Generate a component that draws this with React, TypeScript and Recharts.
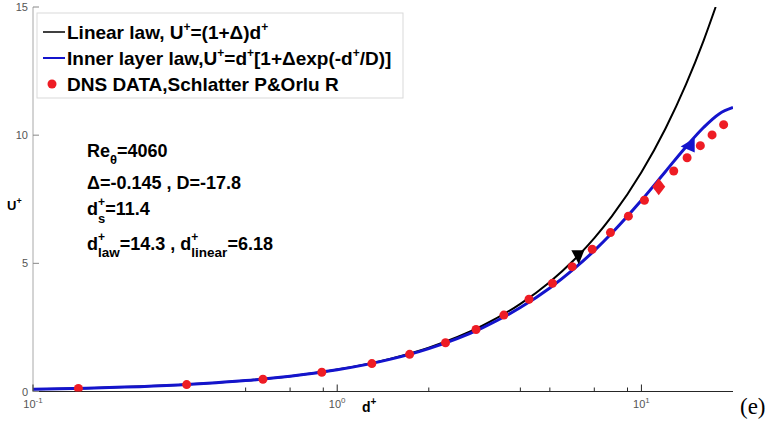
import React from "react";
import { ComposedChart, Line, Scatter, XAxis, YAxis } from "recharts";

// axis ticks (log x, linear y)
const xMajorTicks = [0.1, 1, 10];
const xMinorTicks = [0.5, 0.7, 0.9, 2, 4, 5, 7, 9];
const yTicks = [0, 5, 10, 15];

// Linear law, U+ = (1+Δ)d+
const linearD = [0.1, 0.15, 0.2, 0.3, 0.4, 0.5, 0.7, 1, 1.5, 2, 3, 4, 5, 6, 7, 8, 10, 12, 14, 16, 17.54];
const linearU = [0.086, 0.128, 0.171, 0.257, 0.342, 0.428, 0.599, 0.855, 1.283, 1.71, 2.565, 3.42, 4.275, 5.13, 5.985, 6.84, 8.55, 10.26, 11.97, 13.68, 15.0];

// Inner layer law
const innerD = [0.1, 0.15, 0.2, 0.3, 0.4, 0.5, 0.7, 1, 1.5, 2, 3, 4, 5, 6, 7, 8, 10, 12, 14, 16, 18, 20];
const innerU = [0.085, 0.128, 0.171, 0.256, 0.341, 0.425, 0.595, 0.847, 1.263, 1.675, 2.485, 3.274, 4.04, 4.781, 5.496, 6.182, 7.457, 8.585, 9.542, 10.3, 10.83, 11.08];

// DNS data, Schlatter & Orlu
const dnsD = [0.141, 0.32, 0.57, 0.89, 1.3, 1.73, 2.27, 2.86, 3.53, 4.27, 5.1, 5.92, 6.89, 7.91, 9.06, 10.23, 11.37, 12.77, 14.13, 15.62, 17.07, 18.63];
const dnsU = [0.12, 0.27, 0.48, 0.75, 1.09, 1.45, 1.9, 2.42, 2.98, 3.6, 4.22, 4.87, 5.55, 6.2, 6.84, 7.46, 7.99, 8.6, 9.12, 9.59, 10.01, 10.41];

// special markers: d+_linear, d+_law, d+_s
const linearMark = [{ d: 6.18, u: 5.28 }];
const lawMark = [{ d: 14.3, u: 9.6 }];
const sMark = [{ d: 11.4, u: 7.99 }];

const linearData = linearD.map((d, i) => ({ d, u: linearU[i] }));
const innerData = innerD.map((d, i) => ({ d, u: innerU[i] }));
const dnsData = dnsD.map((d, i) => ({ d, u: dnsU[i] }));

const FONT = "'Liberation Sans', Arial, sans-serif";
const RED = "#ee1c24";
const BLUE = "#1414cc";

function BottomTick(props: any) {
  const { x, y, payload } = props;
  const v = payload.value;
  const major = xMajorTicks.includes(v);
  const exp = Math.round(Math.log10(v));
  return (
    <g>
      <line x1={x} x2={x} y1={y} y2={y - (major ? 7 : 4)} stroke="#262626" />
      {major && (
        <text x={x} y={y + 16} textAnchor="middle" fontSize={11} fill="#555" fontFamily={FONT}>
          10<tspan dy={-5} fontSize={8}>{exp}</tspan>
        </text>
      )}
    </g>
  );
}

function TopTick(props: any) {
  const { x, y, payload } = props;
  const major = xMajorTicks.includes(payload.value);
  return <line x1={x} x2={x} y1={y} y2={y + (major ? 7 : 4)} stroke="#262626" />;
}

function LeftTick(props: any) {
  const { x, y, payload } = props;
  return (
    <g>
      <line x1={x} x2={x + 6} y1={y} y2={y} stroke="#888" />
      <text x={x - 5} y={y + 4} textAnchor="end" fontSize={11} fill="#555" fontFamily={FONT}>
        {payload.value}
      </text>
    </g>
  );
}

function RightTick(props: any) {
  const { x, y } = props;
  return <line x1={x} x2={x - 6} y1={y} y2={y} stroke="#888" />;
}

const dot = (p: any) => <circle cx={p.cx} cy={p.cy} r={4.5} fill={RED} />;
const triDown = (p: any) => (
  <polygon key="tv" points={`${p.cx - 6.5},${p.cy - 6} ${p.cx + 6.5},${p.cy - 6} ${p.cx + 1},${p.cy + 8}`} fill="#000" />
);
const triLeft = (p: any) => (
  <polygon key="tl" points={`${p.cx - 8},${p.cy + 1} ${p.cx + 6},${p.cy - 7.5} ${p.cx + 6},${p.cy + 7}`} fill={BLUE} />
);
const diamond = (p: any) => (
  <polygon key="dm" points={`${p.cx},${p.cy - 8.5} ${p.cx + 6.5},${p.cy} ${p.cx},${p.cy + 8.5} ${p.cx - 6.5},${p.cy}`} fill={RED} />
);

function Overlay() {
  const b = { fontFamily: FONT, fontWeight: 700, fill: "#000" } as const;
  return (
    <svg width={778} height={430} style={{ position: "absolute", left: 0, top: 0, pointerEvents: "none" }}>
      {/* legend */}
      <rect x={37} y={13} width={366} height={85} fill="#fff" stroke="#d9d9d9" />
      <line x1={43} x2={65} y1={32} y2={32} stroke="#000" strokeWidth={1.5} />
      <line x1={43} x2={65} y1={58} y2={58} stroke={BLUE} strokeWidth={2} />
      <circle cx={52} cy={84} r={4.5} fill={RED} />
      <text x={67} y={39} fontSize={19} {...b}>
        Linear law, U<tspan dy={-8} fontSize={12}>+</tspan>
        <tspan dy={8}>=(1+Δ)d</tspan>
        <tspan dy={-8} fontSize={12}>+</tspan>
      </text>
      <text x={67} y={65} fontSize={19} {...b}>
        Inner layer law,U<tspan dy={-8} fontSize={12}>+</tspan>
        <tspan dy={8}>=d</tspan>
        <tspan dy={-8} fontSize={12}>+</tspan>
        <tspan dy={8}>[1+Δexp(-d</tspan>
        <tspan dy={-8} fontSize={12}>+</tspan>
        <tspan dy={8}>/D)]</tspan>
      </text>
      <text x={67} y={91} fontSize={19} {...b}>
        DNS DATA,Schlatter P&amp;Orlu R
      </text>

      {/* annotations */}
      <text x={87} y={157} fontSize={18} {...b}>
        Re<tspan dy={7} fontSize={13}>θ</tspan>
        <tspan dy={-7}>=4060</tspan>
      </text>
      <text x={87} y={189} fontSize={18} {...b}>
        Δ=-0.145 , D=-17.8
      </text>
      <text x={87} y={215} fontSize={18} {...b}>
        d<tspan dy={-9} fontSize={12}>+</tspan>
        <tspan dx={-7} dy={17} fontSize={13}>s</tspan>
        <tspan dy={-8}>=11.4</tspan>
      </text>
      <text x={87} y={250} fontSize={18} {...b}>
        d<tspan dy={-9} fontSize={12}>+</tspan>
        <tspan dx={-7} dy={16} fontSize={13.5}>law</tspan>
        <tspan dy={-7}>=14.3 , d</tspan>
        <tspan dy={-9} fontSize={12}>+</tspan>
        <tspan dx={-7} dy={16} fontSize={13.5}>linear</tspan>
        <tspan dy={-7}>=6.18</tspan>
      </text>

      {/* axis labels */}
      <text x={7} y={210} fontSize={13} {...b}>
        U<tspan dy={-6} fontSize={9}>+</tspan>
      </text>
      <text x={362} y={412} fontSize={14} {...b}>
        d<tspan dy={-7} fontSize={10}>+</tspan>
      </text>
      <text x={740} y={414} fontSize={23} fontFamily="'Liberation Serif', 'Times New Roman', serif" fill="#000">
        (e)
      </text>
    </svg>
  );
}

export default function App() {
  const xTicks = [...xMajorTicks, ...xMinorTicks].sort((a, b) => a - b);
  return (
    <div style={{ position: "absolute", left: 0, top: 0, width: 778, height: 430, background: "#fff" }}>
      <ComposedChart width={778} height={430} margin={{ top: 7, right: 45, bottom: 0, left: 0 }}>
        <XAxis
          xAxisId={0}
          dataKey="d"
          type="number"
          scale="log"
          domain={[0.1, 20]}
          allowDataOverflow
          ticks={xTicks}
          interval={0}
          height={38.5}
          tickSize={0}
          tickMargin={0}
          tickLine={false}
          axisLine={{ stroke: "#262626" }}
          tick={<BottomTick />}
        />
        <XAxis
          xAxisId="top"
          orientation="top"
          dataKey="d"
          type="number"
          scale="log"
          domain={[0.1, 20]}
          allowDataOverflow
          ticks={xTicks}
          interval={0}
          height={0}
          tickSize={0}
          tickMargin={0}
          tickLine={false}
          axisLine={{ stroke: "#262626" }}
          tick={<TopTick />}
        />
        <YAxis
          yAxisId={0}
          type="number"
          domain={[0, 15]}
          allowDataOverflow
          ticks={yTicks}
          interval={0}
          width={33}
          tickSize={0}
          tickMargin={0}
          tickLine={false}
          axisLine={{ stroke: "#a8a8a8" }}
          tick={<LeftTick />}
        />
        <YAxis
          yAxisId="right"
          orientation="right"
          type="number"
          domain={[0, 15]}
          allowDataOverflow
          ticks={yTicks}
          interval={0}
          width={0}
          tickSize={0}
          tickMargin={0}
          tickLine={false}
          axisLine={{ stroke: "#a8a8a8" }}
          tick={<RightTick />}
        />
        <Scatter data={dnsData} dataKey="u" shape={dot} isAnimationActive={false} />
        <Line
          data={linearData}
          dataKey="u"
          type="monotone"
          stroke="#000"
          strokeWidth={2}
          dot={false}
          isAnimationActive={false}
        />
        <Line
          data={innerData}
          dataKey="u"
          type="monotone"
          stroke={BLUE}
          strokeWidth={3}
          dot={false}
          isAnimationActive={false}
        />
        <Line data={linearMark} dataKey="u" stroke="none" dot={triDown} activeDot={false} isAnimationActive={false} />
        <Line data={lawMark} dataKey="u" stroke="none" dot={triLeft} activeDot={false} isAnimationActive={false} />
        <Line data={sMark} dataKey="u" stroke="none" dot={diamond} activeDot={false} isAnimationActive={false} />
      </ComposedChart>
      <Overlay />
    </div>
  );
}
